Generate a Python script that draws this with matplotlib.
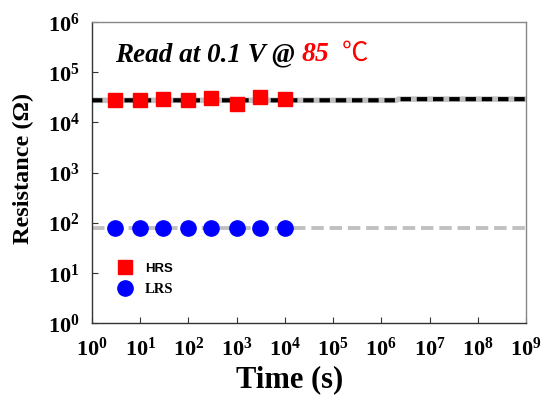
import matplotlib
matplotlib.use("Agg")
import matplotlib.pyplot as plt
from matplotlib.lines import Line2D

time_s = [3, 10, 30, 100, 300, 1000, 3000, 10000]
hrs = [2.75e4, 2.8e4, 2.95e4, 2.85e4, 3.05e4, 2.3e4, 3.2e4, 2.95e4]
lrs = [79, 79, 79, 79, 79, 79, 79, 79]
hrs_fit_t = [1, 2e6, 2.3e6, 1e9]
hrs_fit_r = [2.75e4, 2.75e4, 2.9e4, 2.9e4]
lrs_fit_t = [1, 1e9]
lrs_fit_r = [77, 77]
xticks = [10.0**k for k in range(0, 10)]
yticks = [10.0**k for k in range(0, 7)]

plt.rcParams['mathtext.fontset'] = 'custom'
plt.rcParams['mathtext.rm'] = 'Liberation Serif:bold'
plt.rcParams['mathtext.bf'] = 'Liberation Serif:bold'
plt.rcParams['mathtext.it'] = 'Liberation Serif:bold:italic'

W, H = 541, 397
fig = plt.figure(figsize=(W / 100, H / 100), dpi=100)
L, R, T, B = 92, 526, 22, 323
ax = fig.add_axes([L / W, 1 - B / H, (R - L) / W, (B - T) / H])

ax.plot(hrs_fit_t, hrs_fit_r, color='#c0c0c0', lw=4.0, zorder=2)
ax.plot(hrs_fit_t, hrs_fit_r, color='black', lw=3.0, ls=(0, (2.5, 1.4)), zorder=3)
ax.plot(lrs_fit_t, lrs_fit_r, color='#c0c0c0', lw=2.8, ls=(0, (3.2, 1.5)), zorder=2)
ax.plot(time_s, hrs, ls='none', marker='s', ms=9.5, color='#ff0000', zorder=4)
ax.plot(time_s, lrs, ls='none', marker='o', ms=11, color='#0000ff', zorder=4)

ax.set_xscale('log')
ax.set_yscale('log')
ax.set_xlim(1, 1e9)
ax.set_ylim(1, 1e6)
ax.set_xticks(xticks)
ax.set_yticks(yticks)
ax.set_xticklabels([r'$\mathbf{10^{%d}}$' % k for k in range(0, 10)])
ax.set_yticklabels([r'$\mathbf{10^{%d}}$' % k for k in range(0, 7)])
ax.minorticks_off()
ax.tick_params(axis='both', direction='in', length=4, width=0.8, labelsize=16, colors='#333333')
ax.tick_params(axis='x', pad=10, labelcolor='black')
ax.tick_params(axis='y', pad=9, labelcolor='black')

for s in ['left', 'bottom']:
    ax.spines[s].set_color('#333333')
    ax.spines[s].set_linewidth(1.0)
for s in ['top', 'right']:
    ax.spines[s].set_color('#888888')
    ax.spines[s].set_linewidth(1.0)

fig.text(290 / W, 1 - 380 / H, 'Time (s)', fontfamily='Liberation Serif', fontweight='bold',
         fontsize=22, ha='center', va='center')
fig.text(23 / W, 1 - 168 / H, 'Resistance (Ω)', fontfamily='Liberation Serif', fontweight='bold',
         fontsize=17.5, ha='center', va='center', rotation=90)

fig.text(115 / W, 1 - 61 / H, 'Read at 0.1 V @', fontfamily='Liberation Serif', fontstyle='italic',
         fontweight='bold', fontsize=19.5, color='black', va='baseline')
fig.text(302 / W, 1 - 61 / H, '85', fontfamily='Liberation Serif', fontstyle='italic',
         fontweight='bold', fontsize=20, color='#ff0000', va='baseline')
fig.text(342 / W, 1 - 61 / H, '℃', fontfamily=['Noto Sans CJK SC', 'DejaVu Sans'],
         fontsize=19, color='#ff0000', va='baseline')

handles = [Line2D([], [], ls='none', marker='s', ms=9.5, color='#ff0000'),
           Line2D([], [], ls='none', marker='o', ms=11, color='#0000ff')]
leg = ax.legend(handles, ['HRS', 'LRS'], loc='center left', bbox_to_anchor=(0.045, 0.146),
                frameon=False, handletextpad=0.9, labelspacing=0.55, handlelength=1.0,
                borderpad=0)
t1, t2 = leg.get_texts()
t1.set_fontfamily('Liberation Sans'); t1.set_fontweight('bold'); t1.set_fontsize(9.5)
t2.set_fontfamily('Liberation Serif'); t2.set_fontweight('bold'); t2.set_fontsize(10.5)

fig.savefig('out.png', dpi=100)
